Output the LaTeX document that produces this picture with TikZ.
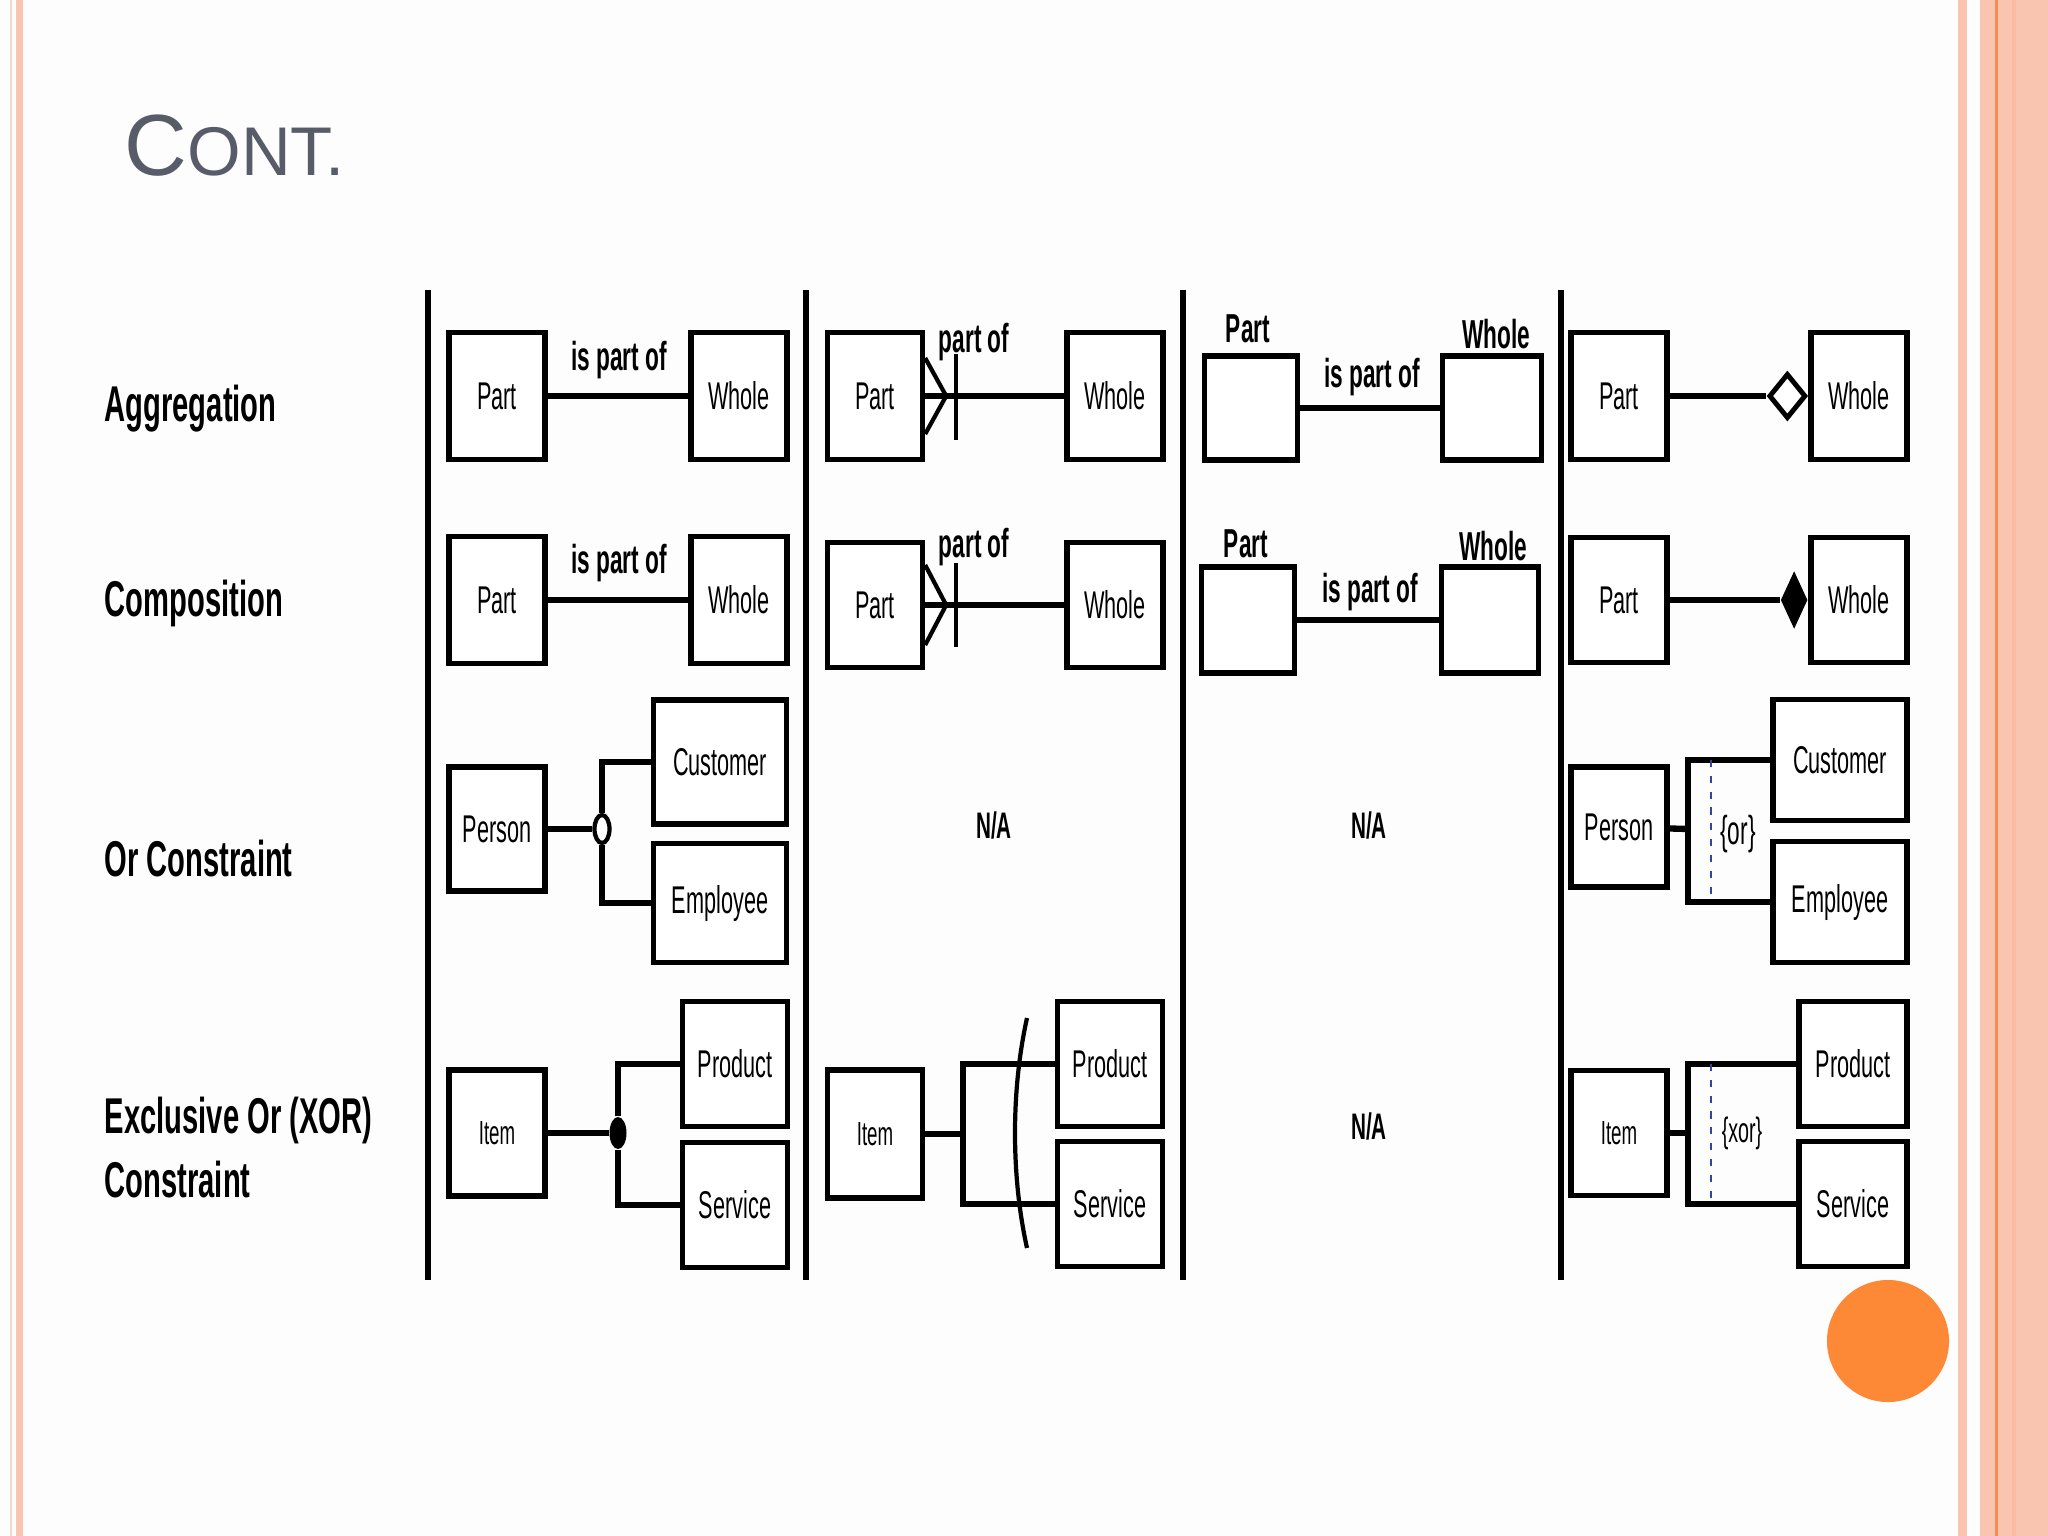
\documentclass[tikz,border=0pt]{standalone}
\usepackage{fontspec}
\setmainfont{Liberation Sans}
\newfontfamily\narrowsans[FakeStretch=0.56]{Liberation Sans}
\newfontfamily\headsans[FakeStretch=0.58]{Liberation Sans}
\usetikzlibrary{positioning,calc,shapes.geometric}
\definecolor{cpage}{RGB}{252,253,252}
\definecolor{cpink}{RGB}{249,197,176}
\definecolor{cpinklt}{RGB}{247,214,202}
\definecolor{corange}{RGB}{247,140,80}
\definecolor{cdot}{RGB}{253,137,55}
\definecolor{ctitle}{RGB}{88,92,104}
\definecolor{cdash}{RGB}{50,70,150}

\begin{document}
\begin{tikzpicture}[x=0.01cm, y=-0.01cm,
  box/.style={draw, line width=1.5pt, fill=white, inner sep=0pt,
    minimum width=0.96cm, minimum height=1.27cm,
    font=\narrowsans\fontsize{11}{13}\selectfont},
  itembox/.style={box, minimum height=1.26cm, font=\narrowsans\fontsize{9.5}{11}\selectfont},
  widebox/.style={box, minimum width=1.33cm, minimum height=1.21cm},
  subbox/.style={box, minimum width=1.05cm, minimum height=1.25cm},
  emptybox/.style={box, minimum width=0.93cm, minimum height=1.05cm},
  lbl/.style={inner sep=0pt, anchor=base, font=\narrowsans\bfseries\fontsize{11.5}{13}\selectfont},
  na/.style={inner sep=0pt, font=\narrowsans\bfseries\fontsize{10.5}{12}\selectfont},
  rowhead/.style={inner sep=0pt, anchor=base west, align=left,
    font=\headsans\bfseries\fontsize{14.3}{18.2}\selectfont},
  cnote/.style={inner sep=0pt, font=\narrowsans\fontsize{11.5}{13}\selectfont},
  link/.style={line width=1.8pt},
  tick/.style={line width=1.2pt},
  sep/.style={line width=1.6pt},
  constr/.style={cdash, line width=0.6pt, dash pattern=on 2pt off 2.5pt}]

\fill[cpage] (0,0) rectangle (2048,1536);
\useasboundingbox (0,0) rectangle (2048,1536);
\fill[cpinklt] (10,0) rectangle (12,1536);
\fill[cpink] (16,0) rectangle (23,1536);
\fill[cpink] (1958,0) rectangle (1967,1536);
\fill[cpink] (1980,0) rectangle (2048,1536);
\fill[corange] (1995,0) rectangle (1998,1536);
\fill[cpink!85!corange] (2012,0) rectangle (2016,1536);
\fill[cdot] (1888,1341) circle (0.61cm);

\node[inner sep=0pt, anchor=base west, text=ctitle] (title) at (124,175)
  {\fontsize{24.7}{26}\selectfont C\fontsize{19.6}{20}\selectfont ONT.};

\foreach \sx in {428,806,1183,1561}
  \draw[sep] (\sx,290) -- (\sx,1280);

\node[rowhead] (hagg) at (104,421) {Aggregation};
\node[rowhead] (hcomp) at (104,616) {Composition};
\node[rowhead] (hor) at (104,876) {Or Constraint};
\node[rowhead] (hxor) at (104,1197) {Exclusive Or (XOR)\\Constraint};

% first notation
\node[box] (c1p1) at (497,396) {Part};
\node[box] (c1w1) at (739,396) {Whole};
\draw[link] (c1p1) -- (c1w1);
\node[lbl] (c1l1) at (619,370) {is part of};

\node[box] (c1p2) at (497,600) {Part};
\node[box] (c1w2) at (739,600) {Whole};
\draw[link] (c1p2) -- (c1w2);
\node[lbl] (c1l2) at (619,573) {is part of};

\node[box, minimum height=1.24cm] (c1pe) at (497,829) {Person};
\node[widebox, minimum height=1.24cm] (c1cu) at (720,762) {Customer};
\node[widebox, minimum height=1.19cm] (c1em) at (720,903) {Employee};
\node[ellipse, draw, line width=1.2pt, fill=white, inner sep=0pt,
      minimum width=0.15cm, minimum height=0.28cm] (c1or) at (602,829) {};
\draw[link] (c1pe) -- (c1or);
\draw[link] (c1or.north) |- (c1cu.west);
\draw[link] (c1or.south) |- (c1em.west);

\node[itembox] (c1it) at (497,1133) {Item};
\node[subbox] (c1pr) at (735,1064) {Product};
\node[subbox] (c1se) at (735,1205) {Service};
\node[ellipse, fill=black, inner sep=0pt,
      minimum width=0.17cm, minimum height=0.32cm] (c1x) at (618,1133) {};
\draw[link] (c1it) -- (c1x);
\draw[link] (c1x.north) |- (c1pr.west);
\draw[link] (c1x.south) |- (c1se.west);

% second notation
\node[box, minimum width=0.95cm] (c2p1) at (875,396) {Part};
\node[box] (c2w1) at (1115,396) {Whole};
\draw[link] (c2p1) -- (c2w1);
\draw[tick] ($(c2p1.east)+(0,-38)$) -- ($(c2p1.east)+(21,0)$) -- ($(c2p1.east)+(0,38)$);
\draw[tick] ($(c2p1.east)+(31,-42)$) -- ($(c2p1.east)+(31,44)$);
\node[lbl] (c2l1) at (974,352) {part of};

\node[box, minimum width=0.95cm, minimum height=1.25cm] (c2p2) at (875,605) {Part};
\node[box, minimum height=1.25cm] (c2w2) at (1115,605) {Whole};
\draw[link] (c2p2) -- (c2w2);
\draw[tick] ($(c2p2.east)+(0,-40)$) -- ($(c2p2.east)+(21,0)$) -- ($(c2p2.east)+(0,40)$);
\draw[tick] ($(c2p2.east)+(31,-42)$) -- ($(c2p2.east)+(31,42)$);
\node[lbl] (c2l2) at (974,557) {part of};

\node[na] (c2na) at (994,825) {N/A};

\node[itembox, minimum width=0.95cm, minimum height=1.28cm] (c2it) at (875,1134) {Item};
\node[subbox] (c2pr) at (1110,1064) {Product};
\node[subbox] (c2se) at (1110,1204) {Service};
\coordinate (c2j) at (963,1134);
\draw[link] (c2it) -- (c2j);
\draw[link] (c2pr.west) -| (c2j) |- (c2se.west);
\draw[tick] (1027,1018) .. controls (1011,1090) and (1011,1176) .. (1027,1248);

% third notation
\node[emptybox, minimum height=1.04cm] (c3p1) at (1251,408) {};
\node[emptybox, minimum width=0.99cm, minimum height=1.04cm] (c3w1) at (1492,408) {};
\draw[link] (c3p1) -- (c3w1);
\node[lbl] (c3a1) at (1248,342) {Part};
\node[lbl] (c3b1) at (1496,348) {Whole};
\node[lbl] (c3l1) at (1372,387) {is part of};

\node[emptybox, minimum height=1.06cm] (c3p2) at (1248,620) {};
\node[emptybox, minimum width=0.97cm, minimum height=1.06cm] (c3w2) at (1490,620) {};
\draw[link] (c3p2) -- (c3w2);
\node[lbl] (c3a2) at (1246,557) {Part};
\node[lbl] (c3b2) at (1493,560) {Whole};
\node[lbl] (c3l2) at (1370,602) {is part of};

\node[na] (c3na1) at (1369,825) {N/A};
\node[na] (c3na2) at (1369,1126) {N/A};

% fourth notation
\node[box] (c4p1) at (1619,396) {Part};
\node[box] (c4w1) at (1859,396) {Whole};
\node[diamond, draw, line width=1.4pt, fill=white, inner sep=0pt,
      minimum width=0.37cm, minimum height=0.45cm, anchor=east] (c4d1) at (c4w1.west) {};
\draw[link] (c4p1) -- (c4d1);

\node[box, minimum height=1.25cm] (c4p2) at (1619,600) {Part};
\node[box, minimum height=1.25cm] (c4w2) at (1859,600) {Whole};
\node[diamond, fill=black, inner sep=0pt,
      minimum width=0.27cm, minimum height=0.58cm, anchor=east] (c4d2) at (c4w2.west) {};
\draw[link] (c4p2) -- (c4d2);

\node[box, minimum height=1.20cm] (c4pe) at (1619,827) {Person};
\node[widebox, minimum width=1.34cm] (c4cu) at (1840,760) {Customer};
\node[widebox, minimum width=1.34cm] (c4em) at (1840,902) {Employee};
\coordinate (c4j) at (1688,829);
\coordinate (c4k) at (1711,829);
\draw[link] (c4pe) -- (c4j);
\draw[link] (c4cu.west) -| (c4j) |- (c4em.west);
\draw[constr] (c4k |- c4cu.west) -- (c4k |- c4em.west);
\node[cnote] (c4orl) at (1738,834) {\{or\}};

\node[itembox, minimum height=1.25cm] (c4it) at (1619,1133) {Item};
\node[subbox, minimum width=1.08cm] (c4pr) at (1853,1064) {Product};
\node[subbox, minimum width=1.08cm] (c4se) at (1853,1204) {Service};
\coordinate (c4j2) at (1688,1133);
\coordinate (c4k2) at (1711,1133);
\draw[link] (c4it) -- (c4j2);
\draw[link] (c4pr.west) -| (c4j2) |- (c4se.west);
\draw[constr] (c4k2 |- c4pr.west) -- (c4k2 |- c4se.west);
\node[cnote, font=\narrowsans\fontsize{10}{12}\selectfont] (c4xorl) at (1742,1133) {\{xor\}};
\end{tikzpicture}
\end{document}
